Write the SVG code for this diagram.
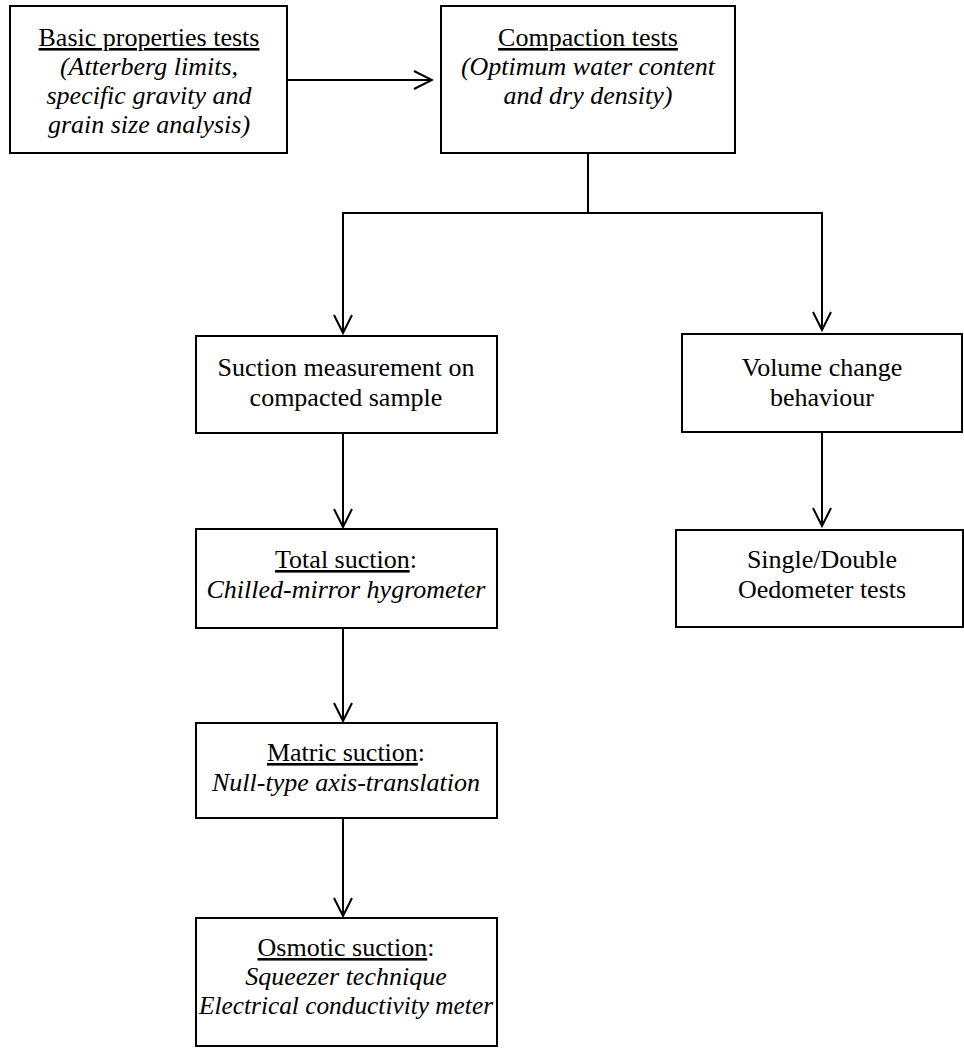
<svg xmlns="http://www.w3.org/2000/svg" width="964" height="1062" viewBox="0 0 964 1062">
<style>
.box{fill:#fff;stroke:#000;stroke-width:2}
text{font-family:"Liberation Serif","Times New Roman",serif;font-size:26px;fill:#000;text-anchor:middle}
.it{font-style:italic}
.u{text-decoration:underline}
.c{stroke:#000;stroke-width:2;fill:none}
</style>
<defs>
<marker id="ah" viewBox="0 0 22 22" refX="20" refY="11" markerWidth="22" markerHeight="22" markerUnits="userSpaceOnUse" orient="auto">
<path d="M2,2 L20,11 L2,20" fill="none" stroke="#000" stroke-width="2"/>
</marker>
</defs>
<rect width="964" height="1062" fill="#fff"/>
<g id="connectors">
<line class="c" x1="287" y1="80" x2="432" y2="80" marker-end="url(#ah)"/>
<line class="c" x1="588" y1="153" x2="588" y2="213"/>
<line class="c" x1="342" y1="213" x2="823" y2="213"/>
<line class="c" x1="343" y1="213" x2="343" y2="333" marker-end="url(#ah)"/>
<line class="c" x1="822" y1="213" x2="822" y2="330" marker-end="url(#ah)"/>
<line class="c" x1="343" y1="433" x2="343" y2="527" marker-end="url(#ah)"/>
<line class="c" x1="822" y1="432" x2="822" y2="526" marker-end="url(#ah)"/>
<line class="c" x1="343" y1="628" x2="343" y2="721" marker-end="url(#ah)"/>
<line class="c" x1="343" y1="818" x2="343" y2="916" marker-end="url(#ah)"/>
</g>
<g id="basic">
<rect class="box" x="10" y="6" width="277" height="147"/>
<text x="149" y="46"><tspan class="u">Basic properties tests</tspan></text>
<text class="it" x="149" y="75">(Atterberg limits,</text>
<text class="it" x="149" y="104">specific gravity and</text>
<text class="it" x="149" y="133">grain size analysis)</text>
</g>
<g id="compaction">
<rect class="box" x="441" y="6" width="294" height="147"/>
<text x="588" y="46"><tspan class="u">Compaction tests</tspan></text>
<text class="it" x="588" y="75">(Optimum water content</text>
<text class="it" x="588" y="104">and dry density)</text>
</g>
<g id="suction">
<rect class="box" x="196" y="336" width="301" height="97"/>
<text x="346" y="376">Suction measurement on</text>
<text x="346" y="406">compacted sample</text>
</g>
<g id="volume">
<rect class="box" x="682" y="334" width="280" height="98"/>
<text x="822" y="376">Volume change</text>
<text x="822" y="406">behaviour</text>
</g>
<g id="total">
<rect class="box" x="196" y="529" width="301" height="99"/>
<text x="346" y="568"><tspan class="u">Total suction</tspan>:</text>
<text class="it" x="346" y="598">Chilled-mirror hygrometer</text>
</g>
<g id="oedometer">
<rect class="box" x="676" y="530" width="287" height="97"/>
<text x="822" y="568">Single/Double</text>
<text x="822" y="598">Oedometer tests</text>
</g>
<g id="matric">
<rect class="box" x="196" y="723" width="301" height="95"/>
<text x="346" y="761"><tspan class="u">Matric suction</tspan>:</text>
<text class="it" x="346" y="791">Null-type axis-translation</text>
</g>
<g id="osmotic">
<rect class="box" x="196" y="918" width="301" height="128"/>
<text x="346" y="956"><tspan class="u">Osmotic suction</tspan>:</text>
<text class="it" x="346" y="985">Squeezer technique</text>
<text class="it" x="346" y="1014" textLength="294" lengthAdjust="spacingAndGlyphs">Electrical conductivity meter</text>
</g>
</svg>
